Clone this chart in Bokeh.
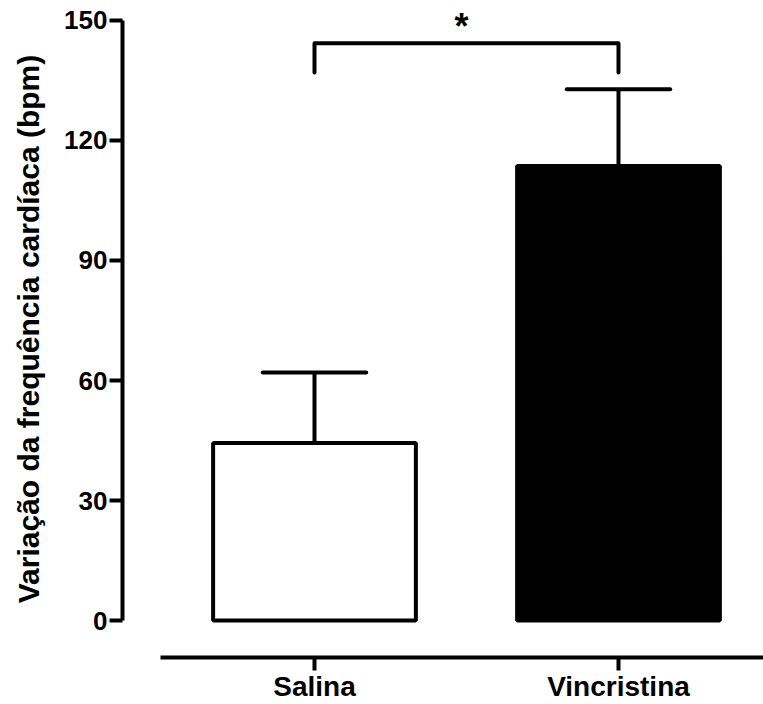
from bokeh.plotting import figure
from bokeh.models import FixedTicker, ColumnDataSource, Range1d
from bokeh.embed import file_html
from bokeh.resources import INLINE
from bokeh.core.properties import value

# ---- data ----
groups = ["Salina", "Vincristina"]
means = [44.4, 113.6]
sems = [17.6, 19.2]
bar_fill = ["white", "black"]
y_ticks = [0, 30, 60, 90, 120, 150]
sig_label = "*"

FONT = "Liberation Sans"
xpos = [i + 1 for i in range(len(groups))]

p = figure(width=763, height=704, output_backend="svg", toolbar_location=None,
           x_range=Range1d(0.3684, 2.477), y_range=Range1d(-9.22, 154.98),
           min_border_left=122, min_border_right=0, min_border_top=0,
           min_border_bottom=45)
p.outline_line_color = None
p.xgrid.visible = False
p.ygrid.visible = False

src = ColumnDataSource(dict(x=xpos, top=means, fill=bar_fill,
                            err=[m + s for m, s in zip(means, sems)]))

p.vbar(x="x", top="top", bottom=0, width=0.667, source=src,
       fill_color="fill", line_color="black", line_width=4)
# error bars (upper only)
p.segment(x0="x", y0="top", x1="x", y1="err", source=src,
          line_color="black", line_width=4)
cap = 0.17
p.segment(x0=[x - cap for x in xpos], y0=src.data["err"],
          x1=[x + cap for x in xpos], y1=src.data["err"],
          line_color="black", line_width=4, line_cap="round")

# significance bracket
b_top = 144.3
b_leg = 137.0
p.line(x=[xpos[0], xpos[0], xpos[1], xpos[1]], y=[b_leg, b_top, b_top, b_leg],
       line_color="black", line_width=4, line_cap="round", line_join="round")
p.text(x=[(xpos[0] + xpos[1]) / 2], y=[148.6], text=[sig_label],
       text_font=value(FONT), text_font_style="bold", text_font_size="36px",
       text_align="center", text_baseline="alphabetic", text_color="black",
       x_offset=-5)

# y axis
ya = p.yaxis[0]
ya.ticker = FixedTicker(ticks=y_ticks)
ya.bounds = (0, 150)
ya.axis_line_width = 4
ya.major_tick_line_width = 4
ya.major_tick_out = 13
ya.major_tick_in = 0
ya.minor_tick_out = 0
ya.minor_tick_in = 0
ya.major_label_text_font = FONT
ya.major_label_text_font_style = "bold"
ya.major_label_text_font_size = "26px"
ya.major_label_text_color = "black"
ya.major_label_standoff = 2
ya.axis_label = "Variação da frequência cardíaca (bpm)"
ya.axis_label_text_font = FONT
ya.axis_label_text_font_style = "bold"
ya.axis_label_text_font_size = "30px"
ya.axis_label_text_color = "black"
ya.axis_label_standoff = 16

# x axis
xa = p.xaxis[0]
xa.ticker = FixedTicker(ticks=xpos)
xa.major_label_overrides = {x: g for x, g in zip(xpos, groups)}
xa.bounds = (0.4934, 2.477)
xa.axis_line_width = 4
xa.major_tick_line_width = 4
xa.major_tick_out = 13
xa.major_tick_in = 0
xa.minor_tick_out = 0
xa.minor_tick_in = 0
xa.major_label_text_font = FONT
xa.major_label_text_font_style = "bold"
xa.major_label_text_font_size = "28px"
xa.major_label_text_color = "black"
xa.major_label_standoff = 0

open("out.html", "w").write(file_html(p, INLINE))
